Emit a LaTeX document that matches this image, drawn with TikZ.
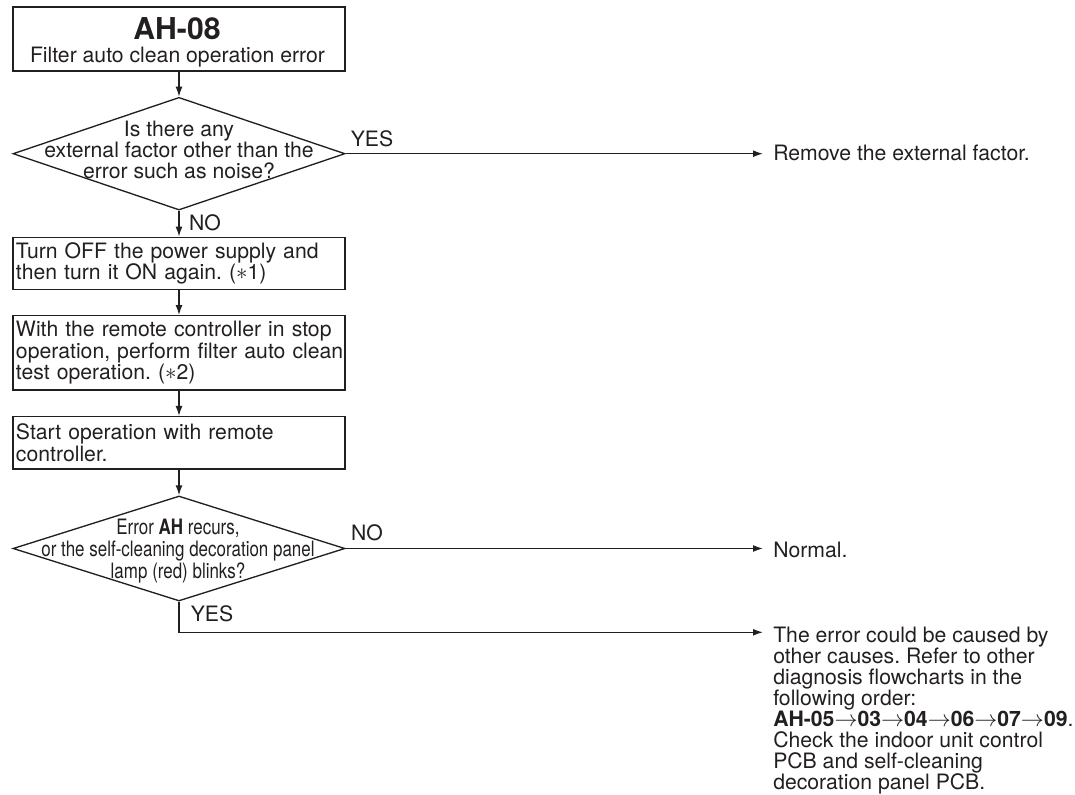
\documentclass[tikz,border=0pt]{standalone}
\usepackage{fontspec}
\setmainfont{TeX Gyre Heros}
\newfontfamily\narrowfont[FakeStretch=0.8]{TeX Gyre Heros}
\usetikzlibrary{shapes.geometric,arrows.meta}
\newlength\px
\setlength\px{0.75pt}
\definecolor{lncol}{HTML}{231F20}
\definecolor{txtcol}{HTML}{231F20}
\newcommand\rarr{\ensuremath{\rightarrow}}
\frenchspacing
\begin{document}
\frenchspacing
\begin{tikzpicture}[x=0.75pt,y=-0.75pt,
  every node/.style={text=txtcol},
  font=\fontsize{15.9}{16.2}\selectfont\frenchspacing,
  line/.style={draw=lncol, line width=1pt},
  arr/.style={line, -{Latex[length=7.5pt,width=5.2pt]}},
  box/.style={draw=lncol, line width=1pt, rectangle, minimum width=332\px,
    text width=326\px, inner xsep=3\px, inner ysep=0pt, align=left},
  dia/.style={draw=lncol, line width=1pt, diamond, inner sep=0pt, minimum width=332\px},
  lbl/.style={inner sep=0pt},
  side/.style={anchor=west, inner xsep=10\px, inner ysep=0pt}
]
\useasboundingbox (0,0) rectangle (1075,795);

% title box
\node[draw=lncol, line width=1pt, rectangle, minimum width=332\px, minimum height=64\px, inner sep=0pt] (b1) at (179,39) {};
\node[anchor=base, inner sep=0pt, font=\fontsize{22.6}{24}\selectfont\bfseries] (t1) at (177,39.3) {AH-08};
\node[anchor=base, inner sep=0pt] (t2) at (177.5,62.6) {Filter auto clean operation error};

% first decision
\node[dia, minimum height=112.7\px] (d1) at (179,153.7) {};
\node[align=center, inner sep=0pt, font=\fontsize{15.9}{15.75}\selectfont\frenchspacing] (q1) at (179,149.5)
  {Is there any\\external factor other than the\\error such as noise?};
\node[lbl] (y1) at (372,139) {YES};
\node[side] (r1) at (763,153.3) {Remove the external factor.};
\draw[arr] (b1.south) -- (d1.north);
\draw[arr] (d1.east) -- (d1.east -| r1.west);

% process boxes
\node[lbl] (n1) at (205,223) {NO};
\node[box, minimum height=52\px] (b2) at (179,263.3)
  {\mbox{Turn OFF the power supply and}\\\mbox{then turn it ON again. ($\ast$1)}};
\draw[arr] (d1.south) -- (b2.north);
\node[box, minimum height=74.3\px] (b3) at (179,352.9)
  {\mbox{With the remote controller in stop}\\\mbox{operation, perform filter auto clean}\\\mbox{test operation. ($\ast$2)}};
\draw[arr] (b2.south) -- (b3.north);
\node[box, minimum height=52.3\px] (b4) at (179,442.8)
  {\mbox{Start operation with remote}\\\mbox{controller.}};
\draw[arr] (b3.south) -- (b4.north);

% second decision
\node[dia, minimum height=105\px] (d2) at (179,548.5) {};
\node[align=center, inner sep=0pt, font=\narrowfont\fontsize{15.9}{16.3}\selectfont\frenchspacing] (q2) at (178,551)
  {Error \textbf{AH} recurs,\\or the self-cleaning decoration panel\\lamp (red) blinks?};
\draw[arr] (b4.south) -- (d2.north);
\node[lbl] (n2) at (367,532.7) {NO};
\node[side] (r2) at (763,550) {Normal.};
\draw[arr] (d2.east) -- (d2.east -| r2.west);
\node[lbl] (y2) at (212,614) {YES};
\node[anchor=north west, inner sep=0pt, align=left, font=\fontsize{15.9}{15.75}\selectfont\frenchspacing] (r3) at (773,627)
  {The error could be caused by\\other causes. Refer to other\\diagnosis flowcharts in the\\following order:\\\textbf{AH-05\rarr03\rarr04\rarr06\rarr07\rarr09}.\\Check the indoor unit control\\PCB and self-cleaning\\decoration panel PCB.};
\coordinate (c3) at (763,632.3);
\draw[arr] (d2.south) |- (c3);
\end{tikzpicture}
\end{document}
